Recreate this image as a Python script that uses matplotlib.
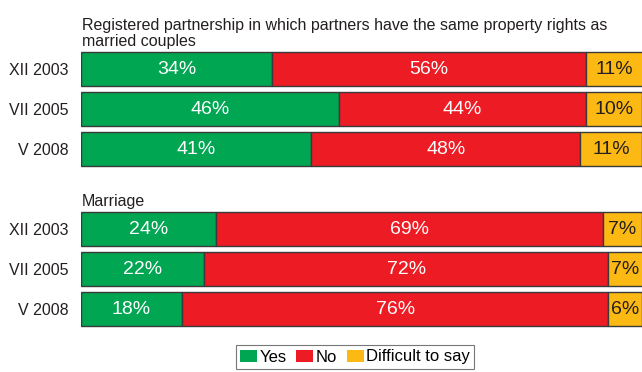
import matplotlib.pyplot as plt
import numpy as np

plt.rcParams['font.family'] = ['Liberation Sans', 'DejaVu Sans']

# Survey waves and answer shares (%)
waves = ["XII 2003", "VII 2005", "V 2008"]
partnership_yes = [34, 46, 41]
partnership_no = [56, 44, 48]
partnership_dk = [11, 10, 11]
marriage_yes = [24, 22, 18]
marriage_no = [69, 72, 76]
marriage_dk = [7, 7, 6]

answers = ["Yes", "No", "Difficult to say"]
colors = ["#00A651", "#ED1C24", "#FDB913"]
label_colors = ["white", "white", "#231F20"]

partnership_title = ["Registered partnership in which partners have the same property rights as",
                     "married couples"]
marriage_title = "Marriage"

W, H = 642, 372
fig = plt.figure(figsize=(W / 100, H / 100), dpi=100)
ax = fig.add_axes([81 / W, (H - 329) / H, (W - 81) / W, 280 / H])

rows = [0, 1, 2, 4, 5, 6]
ylabels = waves + waves
shares = [
    partnership_yes + marriage_yes,
    partnership_no + marriage_no,
    partnership_dk + marriage_dk,
]

xmax = 100
left = np.zeros(len(rows))
for k, vals in enumerate(shares):
    vals = np.array(vals, dtype=float)
    ax.barh(rows, vals, left=left, height=0.85, color=colors[k],
            edgecolor="#3a3a3a", linewidth=1.0, label=answers[k])
    for y, l, v in zip(rows, left, vals):
        r = min(l + v, xmax)
        ax.text((l + r) / 2, y + 0.02, f"{int(v)}%", ha="center", va="center",
                fontsize=14, color=label_colors[k])
    left += vals

ax.set_xlim(0, xmax)
ax.set_ylim(6.5, -0.5)
ax.set_yticks(rows)
ax.set_yticklabels(ylabels, fontsize=11.5, color="#231F20")
ax.tick_params(axis="y", length=0, pad=9)
ax.set_xticks([])
for s in ax.spines.values():
    s.set_visible(False)

for line, base in zip(partnership_title, [30, 46]):
    fig.text(82 / W, 1 - base / H, line, ha="left", va="baseline",
             fontsize=11.5, color="#231F20")
fig.text(82 / W, 1 - 206 / H, marriage_title, ha="left", va="baseline",
         fontsize=11.5, color="#231F20")

handles, labels = ax.get_legend_handles_labels()
leg = fig.legend(handles, labels, loc="center", bbox_to_anchor=(355 / W, 1 - 357 / H),
                 ncol=3, fontsize=12, frameon=True, fancybox=False,
                 handlelength=1.0, handleheight=0.7, handletextpad=0.15,
                 columnspacing=0.6, borderpad=0.25, borderaxespad=0)
leg.get_frame().set_edgecolor("#555555")
leg.get_frame().set_linewidth(0.8)
for h in leg.legend_handles:
    h.set_edgecolor("none")

fig.savefig("out.png", dpi=100)
